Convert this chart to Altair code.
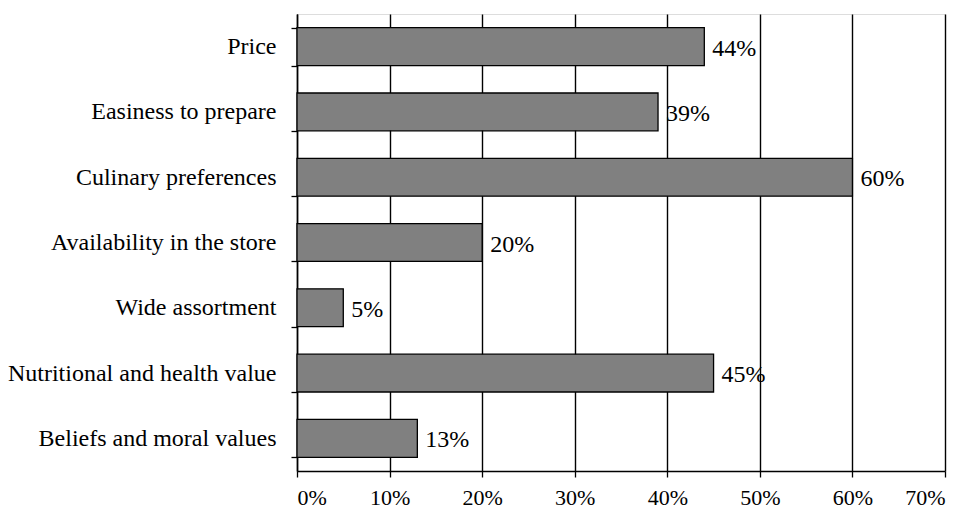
import altair as alt
import pandas as pd

factors = [
    "Price",
    "Easiness to prepare",
    "Culinary preferences",
    "Availability in the store",
    "Wide assortment",
    "Nutritional and health value",
    "Beliefs and moral values",
]
shares = [44, 39, 60, 20, 5, 45, 13]
x_ticks = [0, 10, 20, 30, 40, 50, 60, 70]

df = pd.DataFrame({"factor": factors, "share": shares})
df["label"] = df["share"].astype(str) + "%"

FONT = "Liberation Serif"

y_enc = alt.Y(
    "factor:N",
    sort=factors,
    scale=alt.Scale(paddingInner=0.42, paddingOuter=0.21),
    axis=alt.Axis(
        title=None,
        tickBand="extent",
        tickSize=6,
        tickColor="black",
        tickWidth=1.3,
        domainColor="black",
        domainWidth=1.5,
        labelFont=FONT,
        labelFontSize=24,
        labelColor="black",
        labelPadding=15,
        labelLimit=400,
        grid=False,
    ),
)

x_enc = alt.X(
    "share:Q",
    scale=alt.Scale(domain=[0, 70], nice=False),
    axis=alt.Axis(
        title=None,
        values=x_ticks,
        labelExpr="datum.value + '%'",
        grid=True,
        gridColor="black",
        gridWidth=1.4,
        gridOpacity=1,
        tickSize=6,
        tickColor="black",
        tickWidth=1.3,
        domainColor="black",
        domainWidth=1.5,
        labelFont=FONT,
        labelFontSize=22,
        labelColor="black",
        labelPadding=10,
    ),
)

bars = alt.Chart(df).mark_bar(
    color="#808080", stroke="black", strokeWidth=1.3
).encode(x=x_enc, y=y_enc)

labels = alt.Chart(df).mark_text(
    align="left", baseline="middle", dx=8, dy=2, font=FONT, fontSize=24, color="black"
).encode(x=alt.X("share:Q"), y=alt.Y("factor:N", sort=factors), text="label:N")

chart = (
    alt.layer(bars, labels)
    .properties(
        width=648,
        height=457,
        autosize=alt.AutoSizeParams(type="none"),
        padding={"left": 297, "top": 14, "right": 23, "bottom": 39},
    )
    .configure_view(stroke=None)
    .configure(background="white")
)

chart.save("out.html", embed_options={"renderer": "svg", "actions": False})
